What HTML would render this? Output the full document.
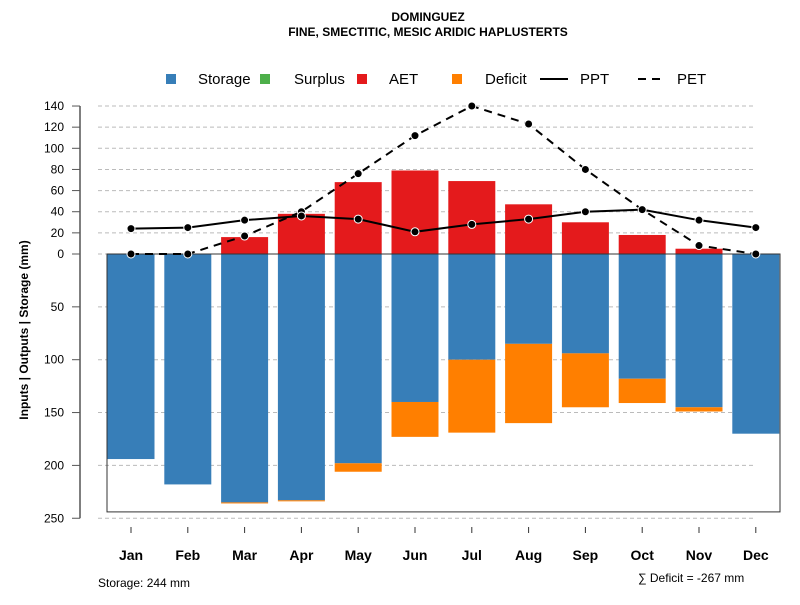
<!DOCTYPE html>
<html><head><meta charset="utf-8"><style>
body{margin:0;background:#fff;font-family:"Liberation Sans",sans-serif}
svg text{font-family:"Liberation Sans",sans-serif}
</style></head><body>
<svg width="800" height="600" xmlns="http://www.w3.org/2000/svg" id="chart">
<text x="428" y="21" text-anchor="middle" font-size="12" font-weight="bold">DOMINGUEZ</text>
<text x="428" y="36" text-anchor="middle" font-size="12" font-weight="bold">FINE, SMECTITIC, MESIC ARIDIC HAPLUSTERTS</text>
<g id="legend">
<rect x="166" y="74" width="10" height="10" fill="#377eb8"/>
<text x="198" y="84" font-size="15">Storage</text>
<rect x="260" y="74" width="10" height="10" fill="#4daf4a"/>
<text x="294" y="84" font-size="15">Surplus</text>
<rect x="357" y="74" width="10" height="10" fill="#e41a1c"/>
<text x="389" y="84" font-size="15">AET</text>
<rect x="452" y="74" width="10" height="10" fill="#ff7f00"/>
<text x="485" y="84" font-size="15">Deficit</text>
<line x1="540" y1="79" x2="568" y2="79" stroke="#000" stroke-width="2"/>
<text x="580" y="84" font-size="15">PPT</text>
<line x1="638" y1="79" x2="666" y2="79" stroke="#000" stroke-width="2" stroke-dasharray="8,6"/>
<text x="677" y="84" font-size="15">PET</text>
</g>
<text transform="translate(28,330) rotate(-90)" text-anchor="middle" font-size="12" font-weight="bold">Inputs | Outputs | Storage    (mm)</text>
<text x="98" y="587" font-size="12">Storage: 244 mm</text>
<text x="638" y="582" font-size="12">∑ Deficit = -267 mm</text>
<g id="plot"></g>
</svg>
<script>
const months=["Jan","Feb","Mar","Apr","May","Jun","Jul","Aug","Sep","Oct","Nov","Dec"];
const ppt=[24,25,32,36,33,21,28,33,40,42,32,25];
const pet=[0,0,17,40,76,112,140,123,80,42,8,0];
const aet=[0,0,16,38,68,79,69,47,30,18,5,0];
const storage=[194,218,235,233,198,140,100,85,94,118,145,170];
const deficit=[0,0,1,1,8,33,69,75,51,23,4,0];
const topTicks=[0,20,40,60,80,100,120,140];
const botTicks=[50,100,150,200,250];
const capacity=244;
const NS="http://www.w3.org/2000/svg";
const g=document.getElementById("plot");
const y0=254,k=1.057;
const yUp=v=>y0-v*k, yDn=v=>y0+v*k;
const xc=i=>131+i*56.8;
const bw=47;
function mk(t,a){const e=document.createElementNS(NS,t);for(const q in a)e.setAttribute(q,a[q]);g.appendChild(e);return e;}
topTicks.concat(botTicks).forEach((v,j)=>{
 const y=j<topTicks.length?yUp(v):yDn(v);
 const l=mk("line",{x1:98,x2:756,y1:y,y2:y,stroke:"#bbb","stroke-dasharray":"4,3"});
 
 
 const t=mk("line",{x1:72,x2:80,y1:y,y2:y,stroke:"#555"});
 
 
 const tx=mk("text",{x:64,y:y+4,"text-anchor":"end","font-size":12});
 tx.textContent=v;
 
 
});
const ax=mk("line",{x1:80,x2:80,y1:yUp(140),y2:yDn(250),stroke:"#555","stroke-width":1.5});


const box=mk("rect",{x:107,y:y0,width:673,height:capacity*k,fill:"none",stroke:"#333"});


months.forEach((m,i)=>{
 const x=xc(i)-bw/2;
 if(storage[i]>0){const r=mk("rect",{x:x,y:y0,width:bw,height:storage[i]*k,fill:"#377eb8"});
 
 }
 if(deficit[i]>0){const r=mk("rect",{x:x,y:yDn(storage[i]),width:bw,height:deficit[i]*k,fill:"#ff7f00"});
 
 }
 if(aet[i]>0){const r=mk("rect",{x:x,y:yUp(aet[i]),width:bw,height:aet[i]*k,fill:"#e41a1c"});
 
 }
 const t=mk("line",{x1:xc(i),x2:xc(i),y1:527,y2:533,stroke:"#333"});
 
 
 const tx=mk("text",{x:xc(i),y:560,"text-anchor":"middle","font-size":14,"font-weight":"bold"});
 tx.textContent=m;
 
 
});
const zl=mk("line",{x1:107,x2:780,y1:y0,y2:y0,stroke:"#333"});


function series(arr,name,dash){
 const p=mk("polyline",{points:arr.map((v,i)=>xc(i)+","+yUp(v)).join(" "),fill:"none",stroke:"#000","stroke-width":2,"stroke-dasharray":dash});
 
 
 arr.forEach((v,i)=>{const c=mk("circle",{cx:xc(i),cy:yUp(v),r:4,fill:"#000",stroke:"#fff","stroke-width":1});
 
 });
}
series(pet,"pet","8,6");
series(ppt,"ppt","none");
</script>
</body></html>
